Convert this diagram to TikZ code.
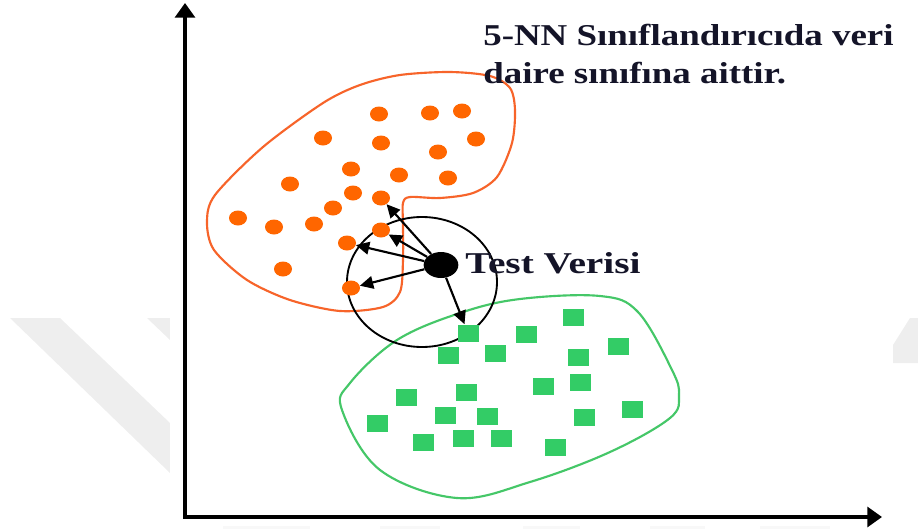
\documentclass[tikz,border=0pt]{standalone}
\usepackage{fontspec}
\setmainfont{Liberation Serif}
\usetikzlibrary{shapes.geometric,arrows.meta}
\definecolor{dotorange}{HTML}{FF6600}
\definecolor{rimorange}{HTML}{F7642A}
\definecolor{sqgreen}{HTML}{33CC66}
\definecolor{rimgreen}{HTML}{45C768}
\definecolor{inkblue}{HTML}{141428}
\definecolor{wmgray}{HTML}{EEEEEE}

\begin{document}
\begin{tikzpicture}[x=0.75pt,y=-0.75pt,
  cdot/.style={ellipse,fill=dotorange,minimum width=13.5pt,minimum height=11.25pt,inner sep=0pt},
  sq/.style={rectangle,fill=sqgreen,minimum width=15.75pt,minimum height=12.75pt,inner sep=0pt},
  caption/.style={font=\fontsize{22.7}{28}\selectfont\bfseries,text=inkblue,inner sep=0pt,anchor=base west},
  nn/.style={-{Triangle[length=10pt,width=9.5pt]},line width=1.6pt},
  axis/.style={line width=2.3pt,{Triangle[length=11pt,width=15pt]}-{Triangle[length=11pt,width=15pt]}},
  rim/.style={line width=1.6pt}]

\useasboundingbox (0,0) rectangle (918,529);

% faint background watermark
\fill[wmgray] (10,318) -- (60,318) -- (170,423) -- (170,473) -- cycle;
\fill[wmgray] (147,318) -- (170,318) -- (170,340) -- cycle;
\fill[wmgray] (893,345) -- (910,318) -- (918,318) -- (918,363) -- (893,363) -- cycle;
\foreach \a/\b in {223/310,380/440,523/580,650/705,760/830}
  \fill[wmgray!40] (\a,526) rectangle (\b,529);

% white plotting panel
\fill[white] (170,0) rectangle (893,522);

% axes
\coordinate (origin) at (185,517);
\coordinate (ytip) at (185,3);
\coordinate (xtip) at (882,517);
\draw[axis] (ytip) -- (origin) -- (xtip);

% class boundaries
\draw[rim,rimorange] plot[smooth cycle,tension=0.5] coordinates {
  (403,203) (410,197) (440,198) (473,193) (497,177) (512,143) (515,110) (510,88)
  (490,76) (450,72) (400,75) (360,85) (323,103) (263,147) (215,195)
  (207,222) (214,250) (247,280) (290,300) (340,311) (383,307) (400,292)
  (403,260) (403,225)};
\draw[rim,rimgreen] plot[smooth cycle,tension=0.6] coordinates {
  (342,410) (350,383) (397,340) (460,313) (520,299) (600,296) (638,312)
  (672,370) (679,395) (670,418) (610,452) (530,482) (457,498) (380,470)};

% neighbourhood of the query point
\node[draw,ellipse,line width=1.4pt,minimum width=112.5pt,minimum height=97.5pt,inner sep=0pt] (nbhd) at (422,282) {};

% circle class
\foreach \n/\x/\y in {1/379/114,2/430/113,3/462/111,4/323/138,5/381/143,6/476/139,
  7/438/152,8/351/169,9/399/175,10/448/178,11/290/184,12/353/193,13/381/198,
  14/333/208,15/238/218,16/274/227,17/314/224,18/381/230,19/347/243,20/283/269,21/351/288}
  \node[cdot] (o\n) at (\x,\y) {};

% square class
\foreach \n/\x/\y in {1/573/317,2/468/333,3/526/334,4/618/346,5/448/355,6/495/353,
  7/578/357,8/543/386,9/580/382,10/406/397,11/466/392,12/632/409,13/445/415,
  14/487/416,15/584/417,16/377/423,17/423/442,18/463/438,19/501/438,20/555/447}
  \node[sq] (g\n) at (\x,\y) {};

% query point and its five nearest neighbours
\node[ellipse,fill=black,minimum width=26pt,minimum height=19.5pt,inner sep=0pt] (test) at (441,265) {};
\draw[nn] (test) -- (o13);
\draw[nn] (test) -- (o18);
\draw[nn] (test) -- (o19);
\draw[nn] (test) -- (o21);
\draw[nn] (test) -- (g2);

% labels
\node[caption,xscale=1.3] (testlbl) at (465,273) {Test Verisi};
\node[caption,xscale=1.22] (note1) at (483,45) {5-NN Sınıflandırıcıda veri};
\node[caption,xscale=1.22] (note2) at (483,83) {daire sınıfına aittir.};
\end{tikzpicture}
\end{document}
